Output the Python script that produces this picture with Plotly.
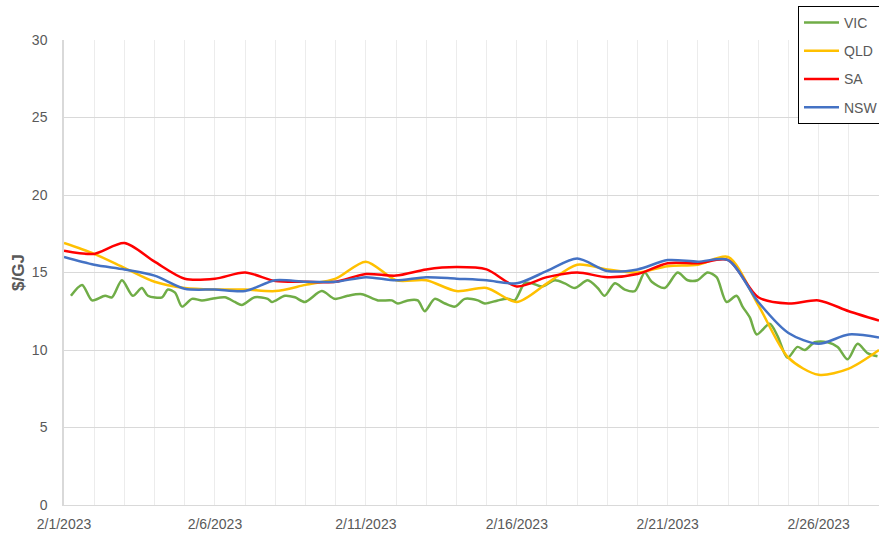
import pandas as pd
import plotly.graph_objects as go

# ---- data ----
start_date = "2023-02-01"
n_days = 28

sa_vals = [16.4, 16.2, 16.9, 15.7, 14.6, 14.6, 15.0, 14.45, 14.4, 14.4,
           14.9, 14.8, 15.2, 15.35, 15.2, 14.1, 14.7, 15.0, 14.7, 14.9,
           15.6, 15.6, 15.8, 13.4, 13.0, 13.2, 12.5, 11.9]
qld_vals = [16.9, 16.2, 15.3, 14.4, 14.0, 13.9, 13.9, 13.8, 14.2, 14.6,
            15.7, 14.5, 14.5, 13.8, 14.0, 13.1, 14.3, 15.5, 15.2, 15.0,
            15.4, 15.5, 16.0, 12.9, 9.5, 8.4, 8.8, 10.0]
nsw_vals = [16.0, 15.5, 15.2, 14.8, 13.95, 13.9, 13.8, 14.5, 14.4, 14.4,
            14.7, 14.5, 14.7, 14.6, 14.5, 14.3, 15.1, 15.9, 15.1, 15.2,
            15.8, 15.7, 15.8, 13.1, 11.1, 10.4, 11.0, 10.8]

# VIC sampled at sub-daily times (days since 2/1/2023)
vic_day = [0.23, 0.60, 0.93, 1.36, 1.59, 1.92, 2.28, 2.58, 2.78, 3.25,
           3.44, 3.68, 3.91, 4.24, 4.57, 4.90, 5.33, 5.66, 5.89, 6.32,
           6.75, 6.89, 7.32, 7.65, 7.98, 8.54, 8.97, 9.40, 9.87, 10.40,
           10.86, 11.06, 11.39, 11.72, 11.95, 12.28, 12.62, 12.95, 13.28, 13.71,
           13.94, 14.37, 14.70, 14.93, 15.26, 15.50, 15.83, 16.26, 16.59, 16.92,
           17.35, 17.68, 17.91, 18.25, 18.58, 18.91, 19.24, 19.47, 19.90, 20.33,
           20.66, 20.99, 21.32, 21.62, 21.95, 22.28, 22.48, 22.72, 22.95, 23.38,
           23.64, 23.97, 24.30, 24.54, 24.87, 25.30, 25.63, 25.96, 26.29, 26.62,
           26.95]
vic_vals = [13.5, 14.2, 13.2, 13.5, 13.4, 14.5, 13.5, 14.0, 13.5, 13.4,
            13.9, 13.7, 12.8, 13.3, 13.2, 13.3, 13.4, 13.1, 12.9, 13.4,
            13.3, 13.1, 13.5, 13.4, 13.1, 13.8, 13.3, 13.5, 13.6, 13.2,
            13.2, 13.0, 13.2, 13.2, 12.5, 13.3, 13.0, 12.8, 13.3, 13.2,
            13.0, 13.2, 13.3, 13.2, 14.3, 14.3, 14.1, 14.5, 14.3, 14.0,
            14.5, 14.0, 13.5, 14.3, 13.9, 13.8, 15.0, 14.4, 14.0, 15.0,
            14.5, 14.5, 15.0, 14.7, 13.1, 13.5, 12.8, 12.1, 11.0, 11.7,
            10.9, 9.5, 10.2, 10.0, 10.5, 10.5, 10.2, 9.4, 10.4, 9.8,
            9.6]

tick_dates = ["2023-02-01", "2023-02-06", "2023-02-11", "2023-02-16", "2023-02-21", "2023-02-26"]
tick_labels = ["2/1/2023", "2/6/2023", "2/11/2023", "2/16/2023", "2/21/2023", "2/26/2023"]

# ---- build ----
days = pd.date_range(start_date, periods=n_days, freq="D")
vic_x = pd.Timestamp(start_date) + pd.to_timedelta(vic_day, unit="D")

FONT = "Liberation Sans"
GRAY = "#595959"

fig = go.Figure()
series = [
    ("VIC", vic_x, vic_vals, "#70AD47"),
    ("QLD", days, qld_vals, "#FFC000"),
    ("SA", days, sa_vals, "#FF0000"),
    ("NSW", days, nsw_vals, "#4472C4"),
]
for name, xs, ys, col in series:
    fig.add_trace(go.Scatter(
        x=xs, y=ys, name=name, mode="lines", legendgroup=name,
        line=dict(color=col, width=2.5, shape="spline", smoothing=0.8),
    ))

fig.update_layout(
    width=879, height=536,
    margin=dict(l=64, r=0, t=40, b=31, autoexpand=False),
    plot_bgcolor="white", paper_bgcolor="white",
    font=dict(family=FONT, size=14, color=GRAY),
    showlegend=True,
    legend=dict(
        x=(798 - 64) / 815, y=1 + 34 / 465, xanchor="left", yanchor="top",
        bgcolor="white", bordercolor="#000000", borderwidth=1,
        font=dict(family=FONT, size=14, color=GRAY),
        tracegroupgap=7, itemwidth=35,
    ),
    xaxis=dict(
        type="date",
        range=[days[0], days[-1]],
        tickvals=tick_dates, ticktext=tick_labels,
        showgrid=True, gridcolor="#ececec", gridwidth=1,
        minor=dict(dtick=86400000, tick0=start_date, showgrid=True, gridcolor="#ececec", gridwidth=1),
        showline=True, linecolor="#d9d9d9", linewidth=1,
        ticks="", tickfont=dict(family=FONT, size=14, color=GRAY),
        ticklabelstandoff=6,
        zeroline=False,
    ),
    yaxis=dict(
        range=[0, 30], dtick=5, tick0=0,
        showgrid=True, gridcolor="#d9d9d9", gridwidth=1,
        showline=True, linecolor="#d9d9d9", linewidth=1.5,
        ticks="", tickfont=dict(family=FONT, size=14, color=GRAY),
        ticklabelstandoff=12,
        zeroline=False,
        title=dict(text="<b>$/GJ</b>", font=dict(family=FONT, size=17, color=GRAY), standoff=3),
    ),
)

fig.write_html(
    "out.html",
    config={"displayModeBar": False},
    post_script="document.body.style.margin='0';document.body.style.overflow='hidden';",
)
